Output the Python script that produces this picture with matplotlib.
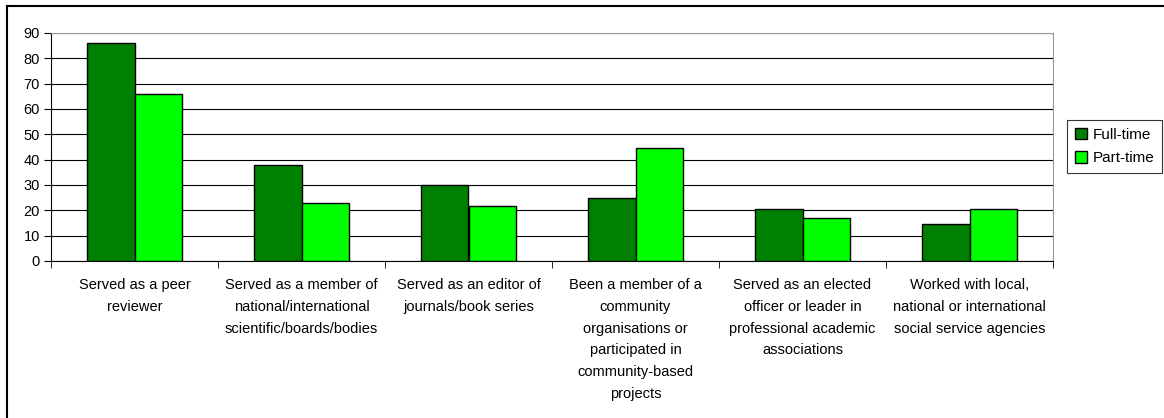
import matplotlib.pyplot as plt
import numpy as np
from matplotlib.lines import Line2D

categories = [
    'Served as a peer\nreviewer',
    'Served as a member of\nnational/international\nscientific/boards/bodies',
    'Served as an editor of\njournals/book series',
    'Been a member of a\ncommunity\norganisations or\nparticipated in\ncommunity-based\nprojects',
    'Served as an elected\nofficer or leader in\nprofessional academic\nassociations',
    'Worked with local,\nnational or international\nsocial service agencies',
]
full_time = [86, 38, 30, 25, 20.5, 14.6]
part_time = [66, 23, 21.6, 44.6, 16.8, 20.5]

plt.rcParams['font.family'] = ['Liberation Sans', 'DejaVu Sans']

W, H = 1164, 418
fig = plt.figure(figsize=(W / 100, H / 100), dpi=100)
ax = fig.add_axes([51 / W, 1 - 261 / H, (1053 - 51) / W, (261 - 33) / H])

x = np.arange(len(categories))
bw = 0.285
ax.bar(x - bw / 2, full_time, bw, color='#008000', edgecolor='black', linewidth=1, label='Full-time', zorder=3)
ax.bar(x + bw / 2, part_time, bw, color='#00ff00', edgecolor='black', linewidth=1, label='Part-time', zorder=3)

ax.set_xlim(-0.5, len(categories) - 0.5)
ax.set_ylim(0, 90)
ax.set_yticks(range(0, 91, 10))
ax.yaxis.grid(True, color='black', linewidth=0.8, zorder=0)
ax.tick_params(axis='y', direction='out', length=5, labelsize=10.5, pad=3)

ax.set_xticks(x)
ax.set_xticklabels(categories, fontsize=10.5, linespacing=1.72)
ax.tick_params(axis='x', length=0, pad=12)
ax.set_xticks(np.arange(-0.5, len(categories)), minor=True)
ax.tick_params(axis='x', which='minor', direction='out', length=5)

for s in ['top', 'right']:
    ax.spines[s].set_color('#999999')
ax.spines['left'].set_color('black')
ax.spines['bottom'].set_color('black')

leg = fig.legend(loc='upper left', bbox_to_anchor=(1067 / W, 1 - 120 / H), fontsize=11,
                 frameon=True, fancybox=False, edgecolor='black', handlelength=0.8,
                 handleheight=0.8, handletextpad=0.4, borderpad=0.5, labelspacing=0.6,
                 borderaxespad=0)
leg.get_frame().set_linewidth(0.8)

fig.add_artist(Line2D([7 / W, 1], [1 - 6 / H, 1 - 6 / H], color='black', linewidth=1.5))
fig.add_artist(Line2D([7 / W, 7 / W], [0, 1 - 6 / H], color='black', linewidth=1.5))

fig.savefig('out.png', dpi=100)
